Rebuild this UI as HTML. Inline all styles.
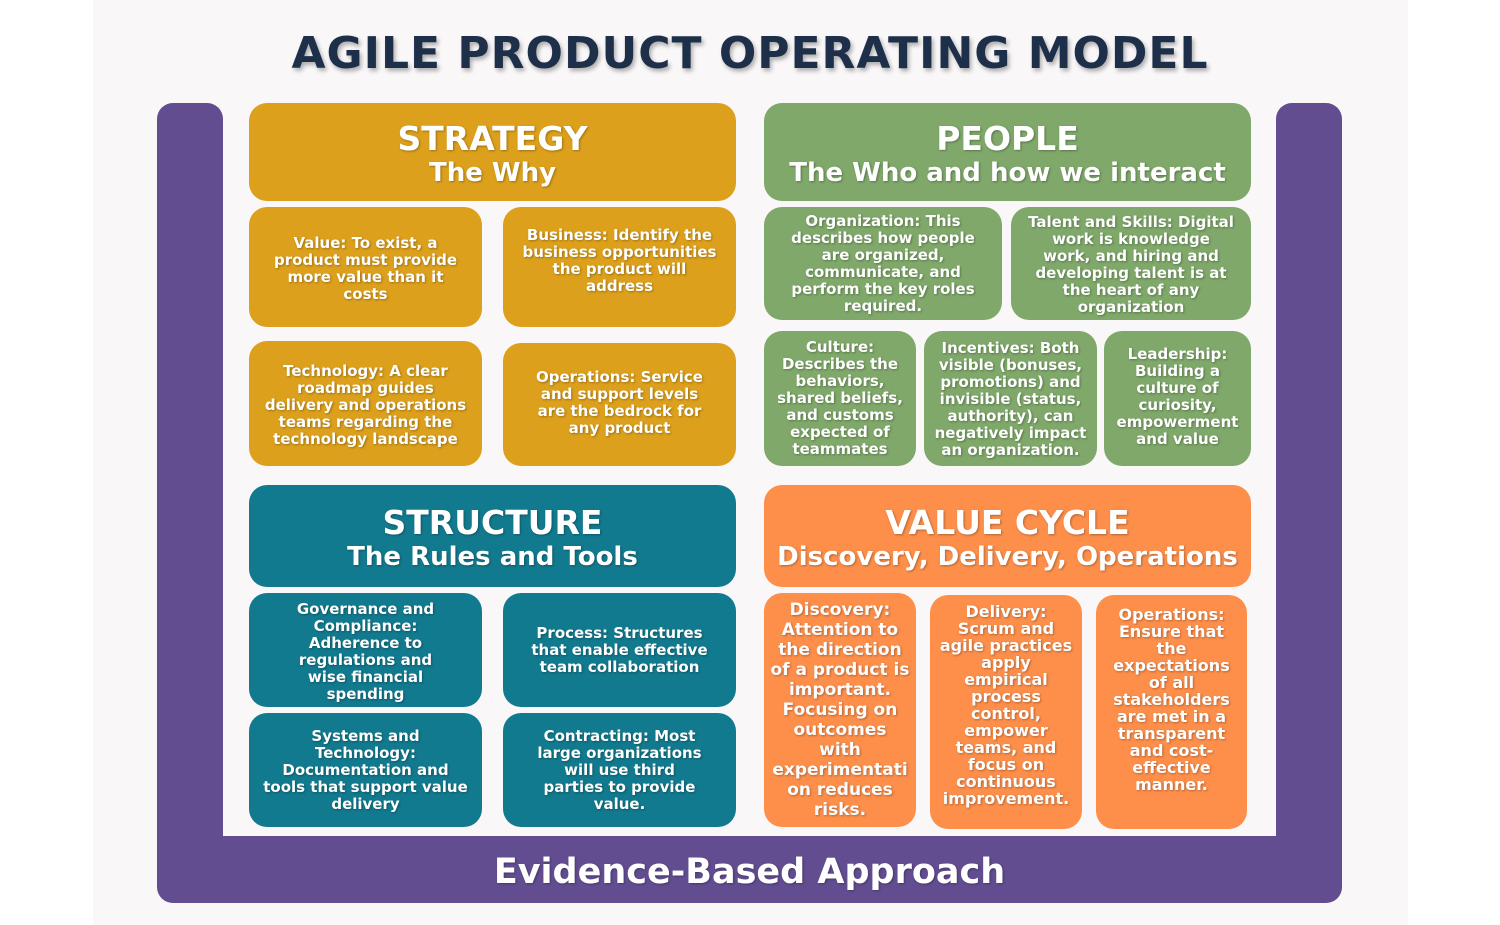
<!DOCTYPE html>
<html><head><meta charset="utf-8"><style>
body{margin:0;width:1500px;height:925px;background:#fff;position:relative;overflow:hidden;font-family:"DejaVu Sans","Liberation Sans",sans-serif;font-weight:bold}
.bg{position:absolute;left:93px;top:0;width:1315px;height:925px;background:#f9f7f8}
.p{position:absolute;background:#624d91}
.b{position:absolute;display:flex;align-items:center;justify-content:center;text-align:center;color:#fff;border-radius:18px;white-space:nowrap;text-shadow:1px 1px 2px rgba(0,0,0,.3)}
.s{font-size:15px;line-height:17px}
.v{font-size:17px;line-height:20px}
.h > div{padding-top:6px}
.h .t{font-size:33px;line-height:36px}
.h .u{font-size:26px;line-height:32px}
.g{background:#dca01c}.gr{background:#7fa86a}.te{background:#127a8e}.o{background:#fd8f4b}
</style></head><body>
<div class="bg"></div>
<div style="position:absolute;left:0;width:1500px;top:28px;text-align:center;font-size:44px;color:#1e2f4a;text-shadow:2px 3px 4px rgba(0,0,0,.3);letter-spacing:1px">AGILE PRODUCT OPERATING MODEL</div>
<div class="p" style="left:157px;top:103px;width:66px;height:760px;border-radius:16px 16px 0 0"></div>
<div class="p" style="left:1276px;top:103px;width:66px;height:760px;border-radius:16px 16px 0 0"></div>
<div class="p" style="left:157px;top:836px;width:1185px;height:67px;border-radius:0 0 16px 16px"></div>
<div class="b" style="left:157px;top:838px;width:1185px;height:67px;font-size:35px;background:none">Evidence-Based Approach</div>

<div class="b h g" style="left:249px;top:103px;width:487px;height:98px"><div><div class="t">STRATEGY</div><div class="u">The Why</div></div></div>
<div class="b s g" style="left:249px;top:207px;width:233px;height:120px;padding-top:4px;box-sizing:border-box">Value: To exist, a<br>product must provide<br>more value than it<br>costs</div>
<div class="b s g" style="left:503px;top:207px;width:233px;height:120px;padding-bottom:12px;box-sizing:border-box">Business: Identify the<br>business opportunities<br>the product will<br>address</div>
<div class="b s g" style="left:249px;top:341px;width:233px;height:125px;padding-top:4px;box-sizing:border-box">Technology: A clear<br>roadmap guides<br>delivery and operations<br>teams regarding the<br>technology landscape</div>
<div class="b s g" style="left:503px;top:343px;width:233px;height:123px;padding-bottom:4px;box-sizing:border-box">Operations: Service<br>and support levels<br>are the bedrock for<br>any product</div>

<div class="b h gr" style="left:764px;top:103px;width:487px;height:98px"><div><div class="t">PEOPLE</div><div class="u">The Who and how we interact</div></div></div>
<div class="b s gr" style="left:764px;top:207px;width:238px;height:113px">Organization: This<br>describes how people<br>are organized,<br>communicate, and<br>perform the key roles<br>required.</div>
<div class="b s gr" style="left:1011px;top:207px;width:240px;height:113px;padding-top:2px;box-sizing:border-box">Talent and Skills: Digital<br>work is knowledge<br>work, and hiring and<br>developing talent is at<br>the heart of any<br>organization</div>
<div class="b s gr" style="left:764px;top:331px;width:152px;height:135px">Culture:<br>Describes the<br>behaviors,<br>shared beliefs,<br>and customs<br>expected of<br>teammates</div>
<div class="b s gr" style="left:924px;top:331px;width:173px;height:135px;padding-top:2px;box-sizing:border-box">Incentives: Both<br>visible (bonuses,<br>promotions) and<br>invisible (status,<br>authority), can<br>negatively impact<br>an organization.</div>
<div class="b s gr" style="left:1104px;top:331px;width:147px;height:135px;padding-bottom:4px;box-sizing:border-box">Leadership:<br>Building a<br>culture of<br>curiosity,<br>empowerment<br>and value</div>

<div class="b h te" style="left:249px;top:485px;width:487px;height:102px"><div><div class="t">STRUCTURE</div><div class="u">The Rules and Tools</div></div></div>
<div class="b s te" style="left:249px;top:593px;width:233px;height:114px;padding-top:4px;box-sizing:border-box">Governance and<br>Compliance:<br>Adherence to<br>regulations and<br>wise financial<br>spending</div>
<div class="b s te" style="left:503px;top:593px;width:233px;height:114px">Process: Structures<br>that enable effective<br>team collaboration</div>
<div class="b s te" style="left:249px;top:713px;width:233px;height:114px">Systems and<br>Technology:<br>Documentation and<br>tools that support value<br>delivery</div>
<div class="b s te" style="left:503px;top:713px;width:233px;height:114px">Contracting: Most<br>large organizations<br>will use third<br>parties to provide<br>value.</div>

<div class="b h o" style="left:764px;top:485px;width:487px;height:102px"><div><div class="t">VALUE CYCLE</div><div class="u">Discovery, Delivery, Operations</div></div></div>
<div class="b v o" style="left:764px;top:593px;width:152px;height:234px">Discovery:<br>Attention to<br>the direction<br>of a product is<br>important.<br>Focusing on<br>outcomes<br>with<br>experimentati<br>on reduces<br>risks.</div>
<div class="b s o" style="left:930px;top:595px;width:152px;height:234px;font-size:16px;line-height:17px;padding-bottom:14px;box-sizing:border-box">Delivery:<br>Scrum and<br>agile practices<br>apply<br>empirical<br>process<br>control,<br>empower<br>teams, and<br>focus on<br>continuous<br>improvement.</div>
<div class="b s o" style="left:1096px;top:595px;width:151px;height:234px;font-size:16px;line-height:17px;padding-bottom:26px;box-sizing:border-box">Operations:<br>Ensure that<br>the<br>expectations<br>of all<br>stakeholders<br>are met in a<br>transparent<br>and cost-<br>effective<br>manner.</div>
</body></html>
